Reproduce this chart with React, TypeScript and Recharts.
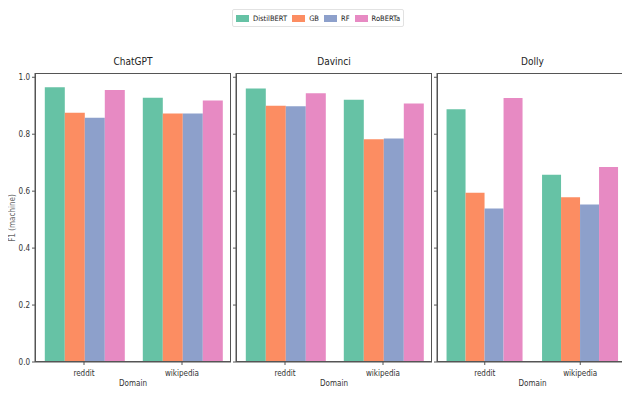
import React from 'react';
import { BarChart, Bar, XAxis, YAxis, Label } from 'recharts';

const DOMAINS = ['reddit', 'wikipedia'];
const MODELS = ['DistilBERT', 'GB', 'RF', 'RoBERTa'];
const COLORS = ['#66c2a5', '#fc8d62', '#8da0cb', '#e78ac3'];
const Y_TICKS = [0, 0.2, 0.4, 0.6, 0.8, 1.0];

// scores per domain, in MODELS order
const chatgptReddit = [0.965, 0.875, 0.858, 0.955];
const chatgptWikipedia = [0.928, 0.873, 0.873, 0.918];
const davinciReddit = [0.961, 0.9, 0.898, 0.944];
const davinciWikipedia = [0.921, 0.782, 0.785, 0.908];
const dollyReddit = [0.888, 0.594, 0.539, 0.927];
const dollyWikipedia = [0.658, 0.579, 0.553, 0.685];

const FONT = '"DejaVu Sans Condensed", "DejaVu Sans", sans-serif';
const AXIS = '#555';

const toRows = (reddit: number[], wikipedia: number[]) =>
  DOMAINS.map((domain, i) => {
    const src = i === 0 ? reddit : wikipedia;
    const row: Record<string, string | number> = { domain };
    MODELS.forEach((m, j) => { row[m] = src[j]; });
    return row;
  });

const PANELS = [
  { title: 'ChatGPT', rows: toRows(chatgptReddit, chatgptWikipedia), left: 35, width: 196 },
  { title: 'Davinci', rows: toRows(davinciReddit, davinciWikipedia), left: 236, width: 196 },
  { title: 'Dolly', rows: toRows(dollyReddit, dollyWikipedia), left: 437, width: 191 },
];

const PLOT_TOP = 73;
const PLOT_BOTTOM = 362;
const CHART_H = 394;

interface PanelProps {
  title: string;
  rows: Record<string, string | number>[];
  left: number;
  width: number;
  first: boolean;
}

const Panel: React.FC<PanelProps> = ({ title, rows, left, width, first }) => {
  const yw = first ? 35 : 5;
  return (
    <div style={{ position: 'absolute', left: left - yw, top: 0 }}>
      <BarChart
        width={width + yw}
        height={CHART_H}
        data={rows}
        margin={{ top: PLOT_TOP, right: 0, bottom: 0, left: 0 }}
        barCategoryGap="10%"
        barGap={0}
      >
        <XAxis
          dataKey="domain"
          height={CHART_H - PLOT_BOTTOM}
          stroke={AXIS}
          tickSize={3}
          tick={{ fontSize: 8, fill: '#333', fontFamily: FONT, dy: 3 }}
        >
          <Label value="Domain" position="insideBottom" offset={8} style={{ fontSize: 8, fill: '#333', fontFamily: FONT }} />
        </XAxis>
        <YAxis
          domain={[0, 1.015]}
          ticks={Y_TICKS}
          width={yw}
          stroke={AXIS}
          tickSize={3}
          tickFormatter={(v: number) => (first ? v.toFixed(1) : '')}
          tick={{ fontSize: 8, fill: '#333', fontFamily: FONT }}
        />
        {MODELS.map((m, i) => (
          <Bar key={m} dataKey={m} fill={COLORS[i]} isAnimationActive={false} />
        ))}
      </BarChart>
      {/* axes frame */}
      <div
        style={{
          position: 'absolute',
          top: PLOT_TOP,
          left: yw,
          width,
          height: PLOT_BOTTOM - PLOT_TOP,
          boxSizing: 'border-box',
          border: `1px solid ${AXIS}`,
          pointerEvents: 'none',
        }}
      />
      <div
        style={{
          position: 'absolute',
          top: 56,
          left: yw,
          width,
          textAlign: 'center',
          fontSize: 10,
          color: '#222',
          fontFamily: FONT,
        }}
      >
        {title}
      </div>
    </div>
  );
};

export default function App() {
  return (
    <div style={{ position: 'relative', margin: -8, width: 630, height: 394, background: '#fff', fontFamily: FONT, overflow: 'hidden' }}>
      <div
        style={{
          position: 'absolute',
          left: 232,
          top: 9,
          height: 16,
          padding: '0 3px',
          border: '1px solid #e2e2e2',
          borderRadius: 2,
          display: 'flex',
          alignItems: 'center',
          gap: 5,
          fontSize: 7.5,
          color: '#222',
        }}
      >
        {MODELS.map((m, i) => (
          <span key={m} style={{ display: 'flex', alignItems: 'center', gap: 4 }}>
            <span style={{ width: 13, height: 7, background: COLORS[i], display: 'inline-block' }} />
            {m}
          </span>
        ))}
      </div>
      <div
        style={{
          position: 'absolute',
          left: 12,
          top: (PLOT_TOP + PLOT_BOTTOM) / 2,
          transform: 'translate(-50%, -50%) rotate(-90deg)',
          fontSize: 8,
          color: '#666',
          whiteSpace: 'nowrap',
        }}
      >
        F1 (machine)
      </div>
      {PANELS.map((p, i) => (
        <Panel key={p.title} title={p.title} rows={p.rows} left={p.left} width={p.width} first={i === 0} />
      ))}
    </div>
  );
}
